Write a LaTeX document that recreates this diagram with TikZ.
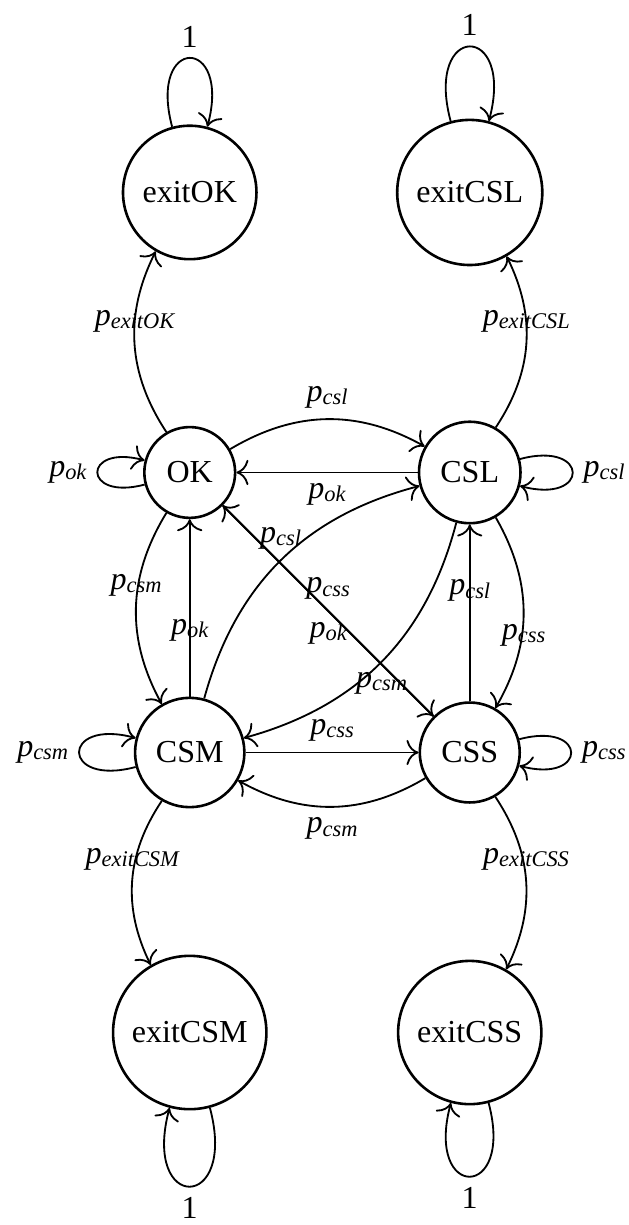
\documentclass[tikz,border=0pt]{standalone}
\usepackage{fontspec}
\setmainfont{Liberation Serif}
\usetikzlibrary{arrows.meta}
% transition probability p with an italic subscript
\newcommand\prob[1]{{\itshape p\raisebox{-1pt}{\fontsize{7.35}{8}\selectfont\itshape #1}}}
\begin{document}
\begin{tikzpicture}[x=1pt,y=1pt,
  font=\fontsize{10.5}{12.6}\selectfont,
  state/.style={circle,draw,line width=0.85pt,inner sep=4.8pt},
  every edge/.style={draw,line width=0.6pt},
  every loop/.style={looseness=6.9},
  >={To[scale=1.35]}]
\useasboundingbox (0,0) rectangle (205.9,401.6);

% states on a square grid
\node[state] (exitOK)  at (62.2,338.5) {exitOK};
\node[state] (exitCSL) at (154.0,338.5) {exitCSL};
\node[state] (OK)      at (62.2,246.7) {OK};
\node[state] (CSL)     at (154.0,246.7) {CSL};
\node[state] (CSM)     at (62.2,154.9) {CSM};
\node[state] (CSS)     at (154.0,154.9) {CSS};
\node[state] (exitCSM) at (62.2,63.1) {exitCSM};
\node[state] (exitCSS) at (154.0,63.1) {exitCSS};

\path[->]
  % absorbing exit states
  (exitOK)  edge[loop above] node[above] {1} ()
  (exitCSL) edge[loop above] node[above] {1} ()
  (exitCSM) edge[loop below] node[below] {1} ()
  (exitCSS) edge[loop below] node[below] {1} ()
  % self transitions
  (OK)  edge[loop left]  node[left]  {\prob{ok}} ()
  (CSL) edge[loop right] node[right] {\prob{csl}} ()
  (CSM) edge[loop left]  node[left]  {\prob{csm}} ()
  (CSS) edge[loop right] node[right] {\prob{css}} ()
  % exits
  (OK)  edge[bend left]  node[above] {\prob{exitOK}} (exitOK)
  (CSL) edge[bend right] node[above] {\prob{exitCSL}} (exitCSL)
  (CSM) edge[bend right] node[above] {\prob{exitCSM}} (exitCSM)
  (CSS) edge[bend left]  node[above] {\prob{exitCSS}} (exitCSS)
  % transitions between the working states
  (OK)  edge[bend left]  node[above] {\prob{csl}} (CSL)
  (CSL) edge             node[below] {\prob{ok}}  (OK)
  (OK)  edge[bend right] node[above] {\prob{csm}} (CSM)
  (CSM) edge             node[below] {\prob{ok}}  (OK)
  (OK)  edge             node[above] {\prob{css}} (CSS)
  (CSS) edge             node[below] {\prob{ok}}  (OK)
  (CSM) edge[bend left]  node[above] {\prob{csl}} (CSL)
  (CSL) edge[bend left]  node[below] {\prob{csm}} (CSM)
  (CSL) edge[bend left]  node[below] {\prob{css}} (CSS)
  (CSS) edge             node[above] {\prob{csl}} (CSL)
  (CSM) edge             node[above] {\prob{css}} (CSS)
  (CSS) edge[bend left]  node[below] {\prob{csm}} (CSM);
\end{tikzpicture}
\end{document}
